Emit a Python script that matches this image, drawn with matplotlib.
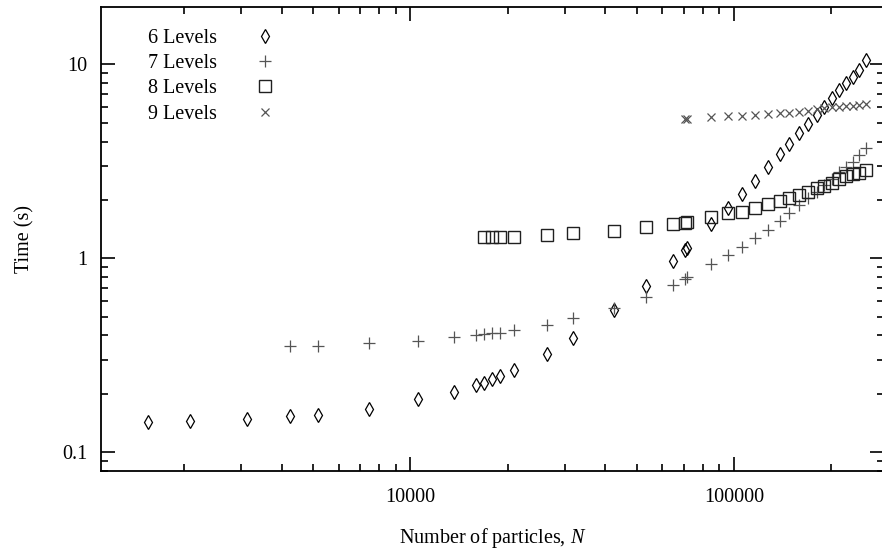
"""Timing vs number of particles for different tree depths (log-log)."""

import matplotlib
matplotlib.use('Agg')
import matplotlib.pyplot as plt

# 6 Levels
n6 = [1543, 2080, 3133, 4240, 5186, 7435, 10540, 13620, 16000, 16860, 17810,
      18940, 20920, 26400, 31910, 42640, 53430, 65000, 70700, 71400, 85000,
      95750, 105800, 116300, 127900, 138900, 148500, 159100, 170000, 180400,
      190500, 201600, 211900, 222300, 233000, 244300, 255700]
t6 = [0.143, 0.145, 0.148, 0.153, 0.156, 0.168, 0.187, 0.205, 0.222, 0.228, 0.238,
      0.247, 0.265, 0.32, 0.39, 0.54, 0.72, 0.97, 1.10, 1.13, 1.50,
      1.81, 2.14, 2.51, 2.97, 3.44, 3.88, 4.41, 4.92, 5.48,
      6.04, 6.68, 7.37, 7.98, 8.63, 9.35, 10.5]

# 7 Levels
n7 = [4240, 5186, 7435, 10540, 13620, 16000, 16860, 17810, 18940, 20920,
      26400, 31910, 42640, 53430, 65000, 70700, 71400, 85000, 95750, 105800,
      116300, 127900, 138900, 148500, 159100, 170000, 180400, 190500, 201600,
      211900, 222300, 233000, 244300, 255700]
t7 = [0.354, 0.354, 0.367, 0.376, 0.392, 0.40, 0.406, 0.41, 0.4135, 0.427,
      0.453, 0.494, 0.552, 0.634, 0.728, 0.78, 0.80, 0.935, 1.04, 1.148,
      1.27, 1.40, 1.55, 1.706, 1.88, 2.04, 2.20, 2.39, 2.55,
      2.79, 2.97, 3.15, 3.41, 3.69]

# 8 Levels
n8 = [16860, 17810, 18940, 20920, 26400, 31910, 42640, 53430, 65000, 70700,
      71400, 85000, 95750, 105800, 116300, 127900, 138900, 148500, 159100,
      170000, 180400, 190500, 201600, 211900, 222300, 233000, 244300, 255700]
t8 = [1.288, 1.288, 1.29, 1.292, 1.323, 1.345, 1.387, 1.45, 1.507, 1.52,
      1.533, 1.638, 1.706, 1.738, 1.823, 1.905, 1.973, 2.04, 2.12,
      2.20, 2.30, 2.37, 2.45, 2.55, 2.66, 2.72, 2.77, 2.85]

# 9 Levels
n9 = [70700, 71400, 85000, 95750, 105800, 116300, 127900, 138900, 148500,
      159100, 170000, 180400, 190500, 201600, 211900, 222300, 233000, 244300,
      255700]
t9 = [5.2, 5.26, 5.35, 5.40, 5.43, 5.50, 5.54, 5.59, 5.63,
      5.68, 5.76, 5.86, 5.93, 6.00, 6.04, 6.08, 6.10, 6.15,
      6.22]

plt.rcParams['font.family'] = ['Liberation Serif', 'DejaVu Serif']
plt.rcParams['mathtext.fontset'] = 'custom'
plt.rcParams['mathtext.rm'] = 'Liberation Serif'
plt.rcParams['mathtext.it'] = 'Liberation Serif:italic'

fig, ax = plt.subplots(figsize=(8.82, 5.5), dpi=100)
fig.subplots_adjust(left=101 / 882, right=883.5 / 882, top=1 - 7.3 / 550, bottom=1 - 471 / 550)

ax.plot(n6, t6, ls='none', marker='d', ms=7.0, mfc='none', mec='black', mew=0.9, label='6 Levels')
ax.plot(n7, t7, ls='none', marker='+', ms=8.0, mec='#555555', mew=0.9, label='7 Levels')
ax.plot(n8, t8, ls='none', marker='s', ms=8.5, mfc='none', mec='#202020', mew=1.0, label='8 Levels')
ax.plot(n9, t9, ls='none', marker='x', ms=6.0, mec='#555555', mew=0.9, label='9 Levels')

ax.set_xscale('log')
ax.set_yscale('log')
ax.set_xlim(1105, 290000)
ax.set_ylim(0.08, 19.7)

ax.set_xticks([1e4, 1e5])
ax.set_xticklabels(['10000', '100000'])
ax.set_yticks([0.1, 1, 10])
ax.set_yticklabels(['0.1', '1', '10'])
ax.tick_params(which='both', direction='in', top=True, right=True, width=1.2, labelsize=14.5)
ax.tick_params(which='major', length=10)
ax.tick_params(which='minor', length=5, labelbottom=False, labelleft=False)
ax.tick_params(axis='x', which='major', pad=12)
ax.tick_params(axis='y', which='major', pad=10)
for s in ax.spines.values():
    s.set_linewidth(1.3)

ax.set_xlabel('Number of particles, $N$', fontsize=14.5, labelpad=14)
ax.set_ylabel('Time (s)', fontsize=14.5)
ax.yaxis.set_label_coords(-0.085, 0.5)

ax.legend(loc='upper left', bbox_to_anchor=(0.06, 0.953), frameon=False, markerfirst=False,
          numpoints=1, fontsize=14.5, handlelength=2.0, handletextpad=1.4,
          labelspacing=0.3, borderpad=0, borderaxespad=0)

plt.savefig('out.png', dpi=100)
